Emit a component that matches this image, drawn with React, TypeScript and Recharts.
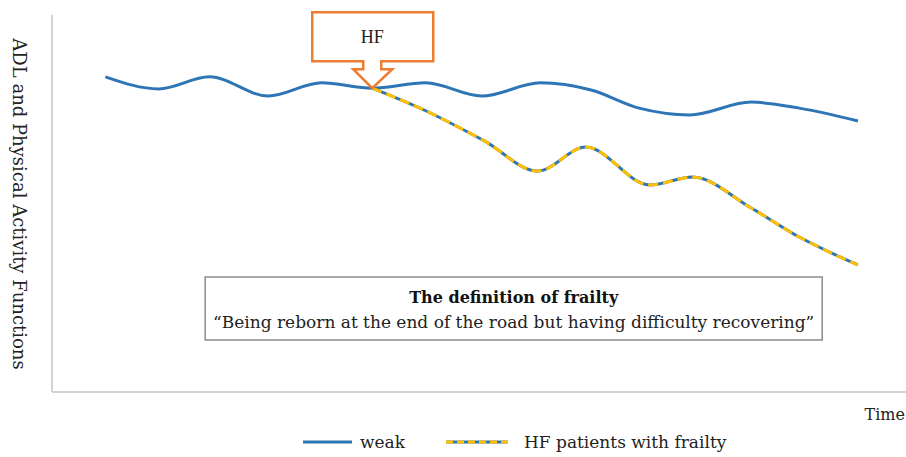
import React from 'react';
import { LineChart, Line, XAxis, YAxis, ReferenceDot, ReferenceArea, Label } from 'recharts';

// time points (arbitrary units) and ADL level
const weakTime = [1.0, 2.0, 2.95, 4.05, 5.05, 6.0, 7.0, 8.05, 9.15, 10.1, 11.0, 11.95, 13.1, 14.0, 15.1];
const weakLevel = [83.6, 80.4, 83.6, 78.5, 82.0, 80.6, 82.0, 78.5, 82.0, 80.1, 75.3, 73.5, 76.9, 75.3, 71.9];

const frailTime = [6.0, 7.0, 8.1, 9.1, 10.0, 11.2, 12.0, 13.1, 14.0, 15.1];
const frailLevel = [80.6, 74.6, 66.6, 58.6, 65.0, 54.9, 57.0, 48.8, 41.1, 33.7];

const legendLabels = ['weak', 'HF patients with frailty'];
const hfEvent = { t: 6.0, level: 80.6, label: 'HF' };
const definitionTitle = 'The definition of frailty';
const definitionQuote = '\u201CBeing reborn at the end of the road but having difficulty recovering\u201D';

const weakData = weakTime.map((t, i) => ({ t, level: weakLevel[i] }));
const frailData = frailTime.map((t, i) => ({ t, level: frailLevel[i] }));

const BLUE = '#2E75B6';
const YELLOW = '#FFC000';
const ORANGE = '#ED7D31';
const AXIS = '#c4c4c4';
const SERIF = '"DejaVu Serif", serif';

const HFCallout = (props: any) => {
  const { cx, cy } = props;
  const pts = [
    [-60, -76], [61, -76], [61, -27], [9, -27], [9, -19], [20, -19],
    [0, 0], [-19, -19], [-9, -19], [-9, -27], [-60, -27],
  ].map(([dx, dy]) => `${cx + dx},${cy + dy}`).join(' ');
  return (
    <g>
      <polygon points={pts} fill="#fff" stroke={ORANGE} strokeWidth={2.5} strokeLinejoin="miter" />
      <text x={cx} y={cy - 45} textAnchor="middle" fontFamily='"Liberation Serif", serif' fontSize={18} fill="#222">
        {hfEvent.label}
      </text>
    </g>
  );
};

const DefinitionBox = (props: any) => {
  const { x, y, width, height } = props;
  const mid = x + width / 2;
  return (
    <g>
      <rect x={x} y={y} width={width} height={height} fill="#fff" stroke="#8c8c8c" strokeWidth={1.5} />
      <text x={mid} y={y + 26} textAnchor="middle" fontFamily={SERIF} fontWeight="bold" fontSize={16} fill="#111">
        {definitionTitle}
      </text>
      <text x={mid} y={y + 51} textAnchor="middle" fontFamily={SERIF} fontSize={17} fill="#222">
        {definitionQuote}
      </text>
    </g>
  );
};

const FrailLegendLine = ({ x1, x2, y }: { x1: number; x2: number; y: number }) => (
  <g>
    <line x1={x1} x2={x2} y1={y} y2={y} stroke={BLUE} strokeWidth={3} />
    <line x1={x1} x2={x2} y1={y} y2={y} stroke={YELLOW} strokeWidth={3} strokeDasharray="7 4" />
  </g>
);

const App: React.FC = () => {
  return (
    <div style={{ position: 'relative', width: 906, height: 457 }}>
      <style>{'body{margin:0}'}</style>
      <LineChart width={906} height={457} margin={{ top: 15, right: 0, bottom: 64, left: 51 }}>
        <XAxis
          type="number"
          dataKey="t"
          domain={[0, 16]}
          height={1}
          tick={false}
          tickLine={false}
          axisLine={{ stroke: AXIS, strokeWidth: 1.5 }}
        >
          <Label
            content={() => (
              <text x={905} y={420} textAnchor="end" fontFamily={SERIF} fontSize={16} fill="#222">
                Time
              </text>
            )}
          />
        </XAxis>
        <YAxis
          type="number"
          domain={[0, 100]}
          width={1}
          tick={false}
          tickLine={false}
          axisLine={{ stroke: AXIS, strokeWidth: 1.5 }}
        >
          <Label
            content={() => (
              <text
                x={19}
                y={204}
                transform="rotate(90 19 204)"
                textAnchor="middle"
                dominantBaseline="central"
                fontFamily={SERIF}
                fontSize={18}
                fill="#222"
              >
                ADL and Physical Activity Functions
              </text>
            )}
          />
        </YAxis>
        <ReferenceArea x1={2.87} x2={14.43} y1={13.8} y2={30.5} shape={<DefinitionBox />} />
        <Line data={weakData} dataKey="level" type="monotone" stroke={BLUE} strokeWidth={3} dot={false} isAnimationActive={false} />
        <Line data={frailData} dataKey="level" type="monotone" stroke={BLUE} strokeWidth={3} dot={false} isAnimationActive={false} />
        <Line data={frailData} dataKey="level" type="monotone" stroke={YELLOW} strokeWidth={3} strokeDasharray="10 5" dot={false} isAnimationActive={false} />
        <ReferenceDot x={hfEvent.t} y={hfEvent.level} r={0} shape={<HFCallout />} />
      </LineChart>
      <svg width={906} height={30} style={{ position: 'absolute', left: 0, top: 430 }}>
        <line x1={303} x2={352} y1={12} y2={12} stroke={BLUE} strokeWidth={3} />
        <text x={360} y={18} fontFamily={SERIF} fontSize={17} fill="#222">{legendLabels[0]}</text>
        <FrailLegendLine x1={446} x2={508} y={12} />
        <text x={524} y={18} fontFamily={SERIF} fontSize={17} fill="#222">{legendLabels[1]}</text>
      </svg>
    </div>
  );
};

export default App;
